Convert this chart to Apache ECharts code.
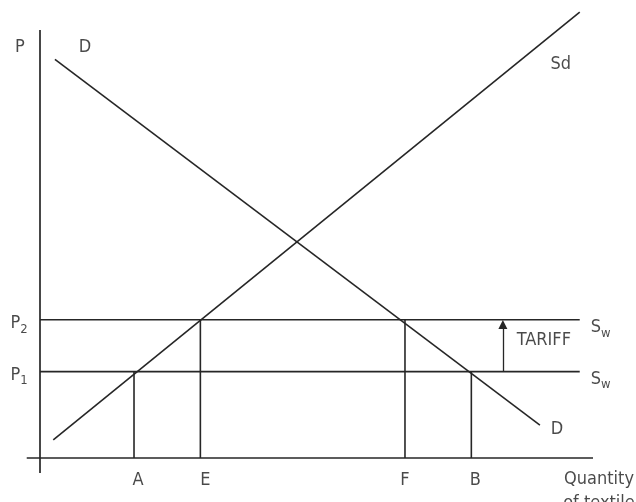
<!DOCTYPE html>
<html>
<head>
<meta charset="utf-8">
<script src="https://cdn.jsdelivr.net/npm/echarts@6/dist/echarts.min.js"></script>
<style>
  html, body { margin: 0; padding: 0; background: #fff; }
  #chart { width: 636px; height: 502px; }
</style>
</head>
<body>
<div id="chart"></div>
<script>
// 价格水平 (P1 世界价格, P2 含关税)
var P1 = 20
var P2 = 32
// 数量点
var qA = 17
var qE = 29
var qF = 66
var qB = 78
// 需求曲线 D 与国内供给 Sd 的端点
var demandPts = [[2.7, 92.3], [90.4, 7.6]]
var supplyPts = [[2.4, 4.2], [97.6, 103.2]]
var swEnd = 97.6
// 坐标轴线
var yAxisPts = [[0, -3.5], [0, 99.1]]
var xAxisPts = [[-2.4, 0], [100, 0]]
var tariffX = 83.7

var lineColor = '#262626'
var textColor = '#1c1c1c'
var font = 'DejaVu Sans Condensed'

function seg(name, pts, w) {
  return {
    name: name,
    type: 'line',
    data: pts,
    symbol: 'none',
    silent: true,
    lineStyle: { color: lineColor, width: w || 1.6 },
    z: 2
  }
}

// 文字标签
function lbl(x, y, text, offset) {
  return {
    value: [x, y],
    label: { formatter: text, offset: offset }
  }
}

var labels = [
  lbl(0, yAxisPts[1][1], 'P', [-20, 17]),
  lbl(demandPts[0][0], demandPts[0][1], 'D', [30, -12]),
  lbl(demandPts[1][0], demandPts[1][1], 'D', [17, 4]),
  lbl(supplyPts[1][0], supplyPts[1][1], 'Sd', [-19, 52]),
  lbl(0, P2, '{a|P}{s|2}', [-21, 4]),
  lbl(0, P1, '{a|P}{s|1}', [-21, 4]),
  lbl(swEnd, P2, '{a|S}{s|w}', [21, 8]),
  lbl(swEnd, P1, '{a|S}{s|w}', [21, 8]),
  lbl(tariffX, (P1 + P2) / 2, 'TARIFF', [41, -5]),
  lbl(qA, 0, 'A', [4, 22]),
  lbl(qE, 0, 'E', [5, 22]),
  lbl(qF, 0, 'F', [0, 22]),
  lbl(qB, 0, 'B', [4, 22])
]

var chart = echarts.init(document.getElementById('chart'))
chart.setOption({
  animation: false,
  backgroundColor: '#fff',
  grid: { left: 12.35, right: 15.35, top: 4.4, bottom: 22.4 },
  xAxis: {
    type: 'value', min: -5, max: 105,
    axisLine: { show: false }, axisTick: { show: false },
    axisLabel: { show: false }, splitLine: { show: false }
  },
  yAxis: {
    type: 'value', min: -5, max: 105,
    axisLine: { show: false }, axisTick: { show: false },
    axisLabel: { show: false }, splitLine: { show: false }
  },
  series: [
    seg('yaxis', yAxisPts, 1.7),
    seg('xaxis', xAxisPts, 1.7),
    seg('D', demandPts),
    seg('Sd', supplyPts),
    seg('P2', [[0, P2], [swEnd, P2]]),
    seg('P1', [[0, P1], [swEnd, P1]]),
    seg('A', [[qA, 0], [qA, P1]]),
    seg('E', [[qE, 0], [qE, P2]]),
    seg('F', [[qF, 0], [qF, P2]]),
    seg('B', [[qB, 0], [qB, P1]]),
    {
      type: 'lines',
      coordinateSystem: 'cartesian2d',
      silent: true,
      symbol: ['none', 'triangle'],
      symbolSize: [7, 9],
      lineStyle: { color: lineColor, width: 1.3, opacity: 1 },
      data: [{ coords: [[tariffX, P1], [tariffX, P2 - 1.1]] }],
      z: 3
    },
    {
      type: 'scatter',
      symbolSize: 0,
      silent: true,
      data: labels,
      label: {
        show: true,
        position: 'inside',
        align: 'center',
        verticalAlign: 'middle',
        color: textColor,
        fontFamily: font,
        fontSize: 18,
        lineHeight: 20,
        rich: {
          a: { fontFamily: font, fontSize: 18, color: textColor, lineHeight: 22 },
          s: { fontFamily: font, fontSize: 13, color: textColor, padding: [11, 0, 0, 0], lineHeight: 22 }
        }
      },
      z: 5
    },
    {
      type: 'scatter',
      symbolSize: 0,
      silent: true,
      data: [lbl(xAxisPts[1][0], 0, 'Quantity\nof textile', [6, 33])],
      label: {
        show: true,
        position: 'inside',
        align: 'center',
        verticalAlign: 'middle',
        color: textColor,
        fontFamily: font,
        fontSize: 18,
        lineHeight: 24
      },
      z: 5
    }
  ]
})
</script>
</body>
</html>
